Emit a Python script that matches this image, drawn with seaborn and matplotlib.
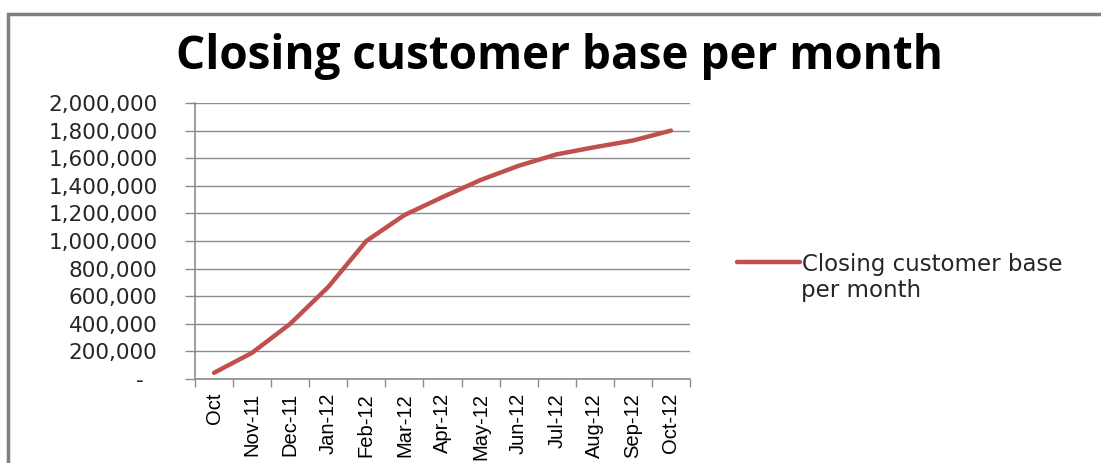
import matplotlib
matplotlib.use("Agg")
import matplotlib.pyplot as plt
from matplotlib import font_manager
from matplotlib.ticker import FuncFormatter, FixedLocator
from matplotlib.patches import Rectangle
from matplotlib.lines import Line2D
import seaborn as sns
import pandas as pd

# Monthly closing customer base
months = ["Oct", "Nov-11", "Dec-11", "Jan-12", "Feb-12", "Mar-12", "Apr-12",
          "May-12", "Jun-12", "Jul-12", "Aug-12", "Sep-12", "Oct-12"]
customers = [45000, 190000, 400000, 667000, 1000000, 1188000, 1318000,
             1442000, 1545000, 1628000, 1680000, 1728000, 1800000]
series_name = "Closing customer base per month"
y_ticks = [0, 200000, 400000, 600000, 800000, 1000000, 1200000,
           1400000, 1600000, 1800000, 2000000]

df = pd.DataFrame({"month": months, "customers": customers})

sns.set_theme(style="white")
installed = {f.name for f in font_manager.fontManager.ttflist}
narrow = "Liberation Sans Narrow" if "Liberation Sans Narrow" in installed else "Liberation Sans"
plt.rcParams["font.family"] = ["DejaVu Sans"]

LINE = "#C0504D"
GRID = "#8C8C8C"
TXT = "#262626"

fig = plt.figure(figsize=(11.01, 4.63), dpi=100)
ax = fig.add_axes([195 / 1101, 1 - 379 / 463, 495 / 1101, 276 / 463])

sns.lineplot(data=df, x="month", y="customers", ax=ax, color=LINE,
             linewidth=3.2, sort=False, legend=False)

ax.set_xlim(-0.5, len(months) - 0.5)
ax.set_ylim(0, 2000000)
ax.set_xlabel("")
ax.set_ylabel("")

# value axis (accounting style: zero shown as a dash)
ax.yaxis.set_major_locator(FixedLocator(y_ticks))
ax.yaxis.set_major_formatter(FuncFormatter(lambda v, p: "-  " if v == 0 else f"{int(v):,}"))
ax.grid(axis="y", color=GRID, linewidth=1.0)
ax.grid(axis="x", visible=False)
ax.tick_params(axis="y", which="major", length=7, width=1.0, color=GRID,
               labelsize=15.5, labelcolor=TXT, pad=20, left=True)

# category axis: labels centred, tick marks between categories
ax.set_xticks(range(len(months)))
ax.set_xticklabels(months, rotation=90, fontfamily=narrow, fontsize=14.5, color="black")
ax.set_xticks([i - 0.5 for i in range(len(months) + 1)], minor=True)
ax.tick_params(axis="x", which="major", length=0, pad=10)
ax.tick_params(axis="x", which="minor", length=6, width=1.0, color=GRID, bottom=True)

for side in ["top", "right"]:
    ax.spines[side].set_visible(False)
for side in ["left", "bottom"]:
    ax.spines[side].set_color(GRID)
    ax.spines[side].set_linewidth(1.2)
ax.set_axisbelow(True)

# chart title
fig.text(560 / 1101, 1 - 56 / 463, "Closing customer base per month",
         ha="center", va="center", fontsize=33, fontweight="bold",
         family="Open Sans", color="black")

# legend
handle = Line2D([], [], color=LINE, linewidth=3.2)
leg = fig.legend([handle], ["Closing customer base"], loc="center left",
                 bbox_to_anchor=(728 / 1101, 1 - 264 / 463), frameon=False,
                 handlelength=2.75, handletextpad=0.1, borderaxespad=0,
                 prop={"size": 16.5, "family": "DejaVu Sans"})
for t in leg.get_texts():
    t.set_color(TXT)
fig.text(801 / 1101, 1 - 290 / 463, "per month", ha="left", va="center",
         fontsize=16.5, color=TXT, family="DejaVu Sans")

# chart area frame
fig.patches.append(Rectangle((8 / 1101, -0.1), 1.2, 1 - 14 / 463 + 0.1,
                             transform=fig.transFigure, fill=False,
                             edgecolor="#7F7F7F", linewidth=2.5))

fig.savefig("out.png", dpi=100)
